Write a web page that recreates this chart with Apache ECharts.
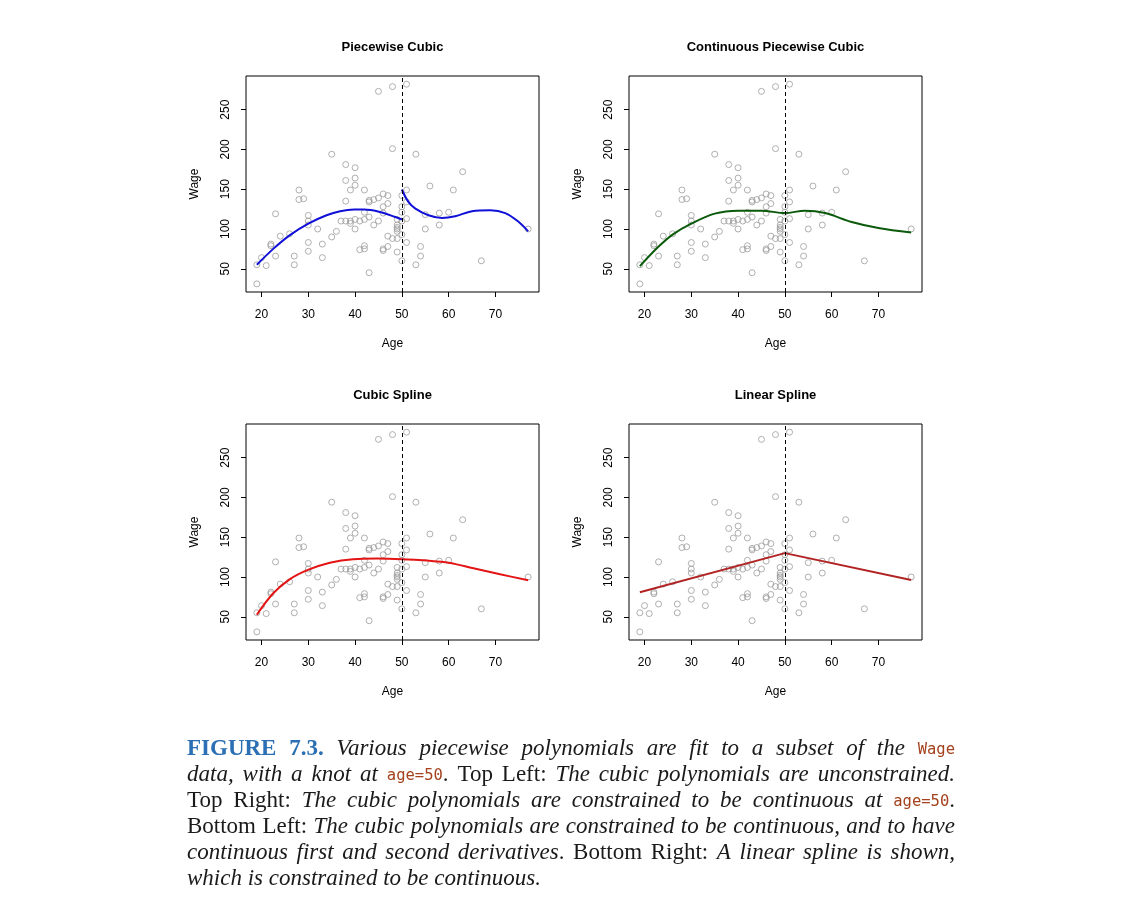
<!DOCTYPE html>
<html><head><meta charset="utf-8">
<script src="https://cdn.jsdelivr.net/npm/echarts@6/dist/echarts.min.js"></script>
<style>html,body{margin:0;padding:0;background:#fff}#c{width:1131px;height:906px}</style>
</head><body><div id="c"></div>
<script>
// ---------------- data ----------------
const AGE  = [19,19,20,21,22,22,23,23,24,26,27,27,28,28,29,30,30,30,30,30,32,33,33,35,35,36,37,38,38,38,38,39,39,39,40,40,40,40,40,41,41,42,42,42,42,42,43,43,43,43,44,44,45,45,45,46,46,46,46,46,47,47,47,47,48,48,48,49,49,49,49,49,49,49,50,50,50,50,50,50,51,51,51,51,51,53,53,54,54,55,55,56,58,58,60,61,63,67,77];
const WAGE = [31,55,64,54,81,79,119,66,91,94,66,55,149,137,138,117,110,105,83,72,100,81,64,194,90,97,110,181,161,135,110,149,110,107,177,164,155,112,100,110,74,149,121,112,79,75,136,134,115,45,137,105,273,139,110,144,128,120,75,73,142,132,91,78,279,201,88,112,105,102,100,97,88,71,142,128,121,110,93,60,282,149,134,113,83,194,55,78,66,118,100,154,120,105,121,149,172,60,100];

const KNOT = 50;

// Piecewise cubic (unconstrained), two pieces
const PW_LEFT_AGE  = [19, 22.5, 26, 30, 33.9, 36.8, 39.8, 41.9, 45.3, 48.6, 50];
const PW_LEFT_WAGE = [55, 75, 92, 106.7, 117.2, 122.3, 124.4, 124.4, 121.4, 115, 112];
const PW_RIGHT_AGE  = [50, 51.4, 52.9, 55.7, 58.6, 61.4, 65, 68.9, 72.1, 75, 77];
const PW_RIGHT_WAGE = [149.6, 134, 125.6, 117.2, 113.8, 116, 122.3, 123.5, 120, 108.8, 97];

// Continuous piecewise cubic
const CPW_AGE  = [19, 22.9, 26, 30, 35, 40, 45, 50, 54.3, 58.6, 64.3, 70, 77];
const CPW_WAGE = [53.3, 77.3, 93, 106.7, 119.3, 123, 123, 120, 123, 120, 108.8, 101.2, 95.5];

// Cubic spline
const CS_AGE  = [19, 22.5, 26, 29.9, 34.6, 39.6, 44.6, 50, 55.4, 60, 65.3, 71, 77];
const CS_WAGE = [52.5, 79.5, 97, 108.9, 118, 122.4, 123.1, 122.4, 120.6, 118, 111, 103.4, 96];

// Linear spline
const LS_AGE  = [19, 50, 77];
const LS_WAGE = [80.8, 130, 96.3];

const X_TICKS = [20, 30, 40, 50, 60, 70];
const Y_TICKS = [50, 100, 150, 200, 250];
const X_RANGE = [16.68, 79.32];
const Y_RANGE = [20.8, 292.3];

const PANEL_TITLES = ['Piecewise Cubic', 'Continuous Piecewise Cubic', 'Cubic Spline', 'Linear Spline'];
const X_NAME = 'Age';
const Y_NAME = 'Wage';

// ---------------- build ----------------
const zip = (a, b) => a.map((v, i) => [v, b[i]]);
const POINTS = zip(AGE, WAGE);

const SANS = '"Liberation Sans", Arial, Helvetica, sans-serif';
const GRIDS = [
  {left: 246, top: 76}, {left: 629, top: 76},
  {left: 246, top: 424}, {left: 629, top: 424}
];
const GW = 293, GH = 216;

const FITS = [
  [{x: PW_LEFT_AGE, y: PW_LEFT_WAGE, c: '#1010d8', s: true}, {x: PW_RIGHT_AGE, y: PW_RIGHT_WAGE, c: '#1010d8', s: true}],
  [{x: CPW_AGE, y: CPW_WAGE, c: '#0b5a0b', s: true}],
  [{x: CS_AGE, y: CS_WAGE, c: '#e41414', s: true}],
  [{x: LS_AGE, y: LS_WAGE, c: '#b22424', s: false}]
];

const grid = [], xAxis = [], yAxis = [], series = [], graphic = [];
GRIDS.forEach((g, i) => {
  grid.push({left: g.left, top: g.top, width: GW, height: GH, show: true, borderColor: '#000', borderWidth: 1, backgroundColor: 'transparent'});
  xAxis.push({
    gridIndex: i, type: 'value', min: X_RANGE[0], max: X_RANGE[1],
    axisLine: {show: false}, splitLine: {show: false},
    axisTick: {show: true, inside: false, length: 5, customValues: X_TICKS, lineStyle: {color: '#000', width: 1}},
    axisLabel: {customValues: X_TICKS, margin: 17, fontSize: 12, color: '#000', fontFamily: SANS},
    name: X_NAME, nameLocation: 'middle', nameGap: 46,
    nameTextStyle: {fontSize: 12, color: '#000', fontFamily: SANS}
  });
  yAxis.push({
    gridIndex: i, type: 'value', min: Y_RANGE[0], max: Y_RANGE[1],
    axisLine: {show: false}, splitLine: {show: false},
    axisTick: {show: true, inside: false, length: 5, customValues: Y_TICKS, lineStyle: {color: '#000', width: 1}},
    axisLabel: {customValues: Y_TICKS, margin: 14, rotate: 90, fontSize: 12, color: '#000', fontFamily: SANS},
    name: Y_NAME, nameLocation: 'middle', nameGap: 45,
    nameTextStyle: {fontSize: 12, color: '#000', fontFamily: SANS}
  });
  series.push({
    type: 'scatter', xAxisIndex: i, yAxisIndex: i, data: POINTS,
    symbol: 'circle', symbolSize: 6,
    itemStyle: {color: 'rgba(0,0,0,0)', borderColor: '#9c9c9c', borderWidth: 1},
    emphasis: {disabled: true}, silent: true, z: 2,
    markLine: {
      silent: true, symbol: ['none', 'none'], label: {show: false},
      lineStyle: {color: '#000', type: [4, 3], width: 1},
      emphasis: {disabled: true},
      data: [{xAxis: KNOT}]
    }
  });
  FITS[i].forEach(f => {
    series.push({
      type: 'line', xAxisIndex: i, yAxisIndex: i, data: zip(f.x, f.y),
      showSymbol: false, symbol: 'none', smooth: f.s ? 0.35 : false,
      lineStyle: {color: f.c, width: 2}, silent: true, z: 3
    });
  });
  graphic.push({
    type: 'text', x: g.left + GW / 2, y: g.top - 29,
    style: {text: PANEL_TITLES[i], font: 'bold 13px ' + SANS, fill: '#000',
      textAlign: 'center', align: 'center', textVerticalAlign: 'middle', verticalAlign: 'middle'}
  });
});

// ---------------- caption ----------------
const CAPTION_LINES = [
  [['fig', 'FIGURE 7.3. '], ['it', 'Various piecewise polynomials are fit to a subset of the '], ['code', 'Wage']],
  [['it', 'data, with a knot at '], ['code', 'age=50'], ['rm', '. Top Left: '], ['it', 'The cubic polynomials are unconstrained.']],
  [['rm', 'Top Right: '], ['it', 'The cubic polynomials are constrained to be continuous at '], ['code', 'age=50'], ['rm', '.']],
  [['rm', 'Bottom Left: '], ['it', 'The cubic polynomials are constrained to be continuous, and to have']],
  [['it', 'continuous first and second derivatives'], ['rm', '. Bottom Right: '], ['it', 'A linear spline is shown,']],
  [['it', 'which is constrained to be continuous.']]
];
const STY = {
  fig:  {font: 'bold 23px "Liberation Serif", serif', fill: '#2b6fb4'},
  it:   {font: 'italic 23px "Liberation Serif", serif', fill: '#1a1a1a'},
  rm:   {font: '23px "Liberation Serif", serif', fill: '#1a1a1a'},
  code: {font: '15.5px "DejaVu Sans Mono", monospace', fill: '#a3421c'}
};
const CAP_LEFT = 187, CAP_W = 768, CAP_Y0 = 749, CAP_DY = 26;
const mctx = document.createElement('canvas').getContext('2d');
const measure = (t, font) => { mctx.font = font; return mctx.measureText(t).width; };

CAPTION_LINES.forEach((runs, li) => {
  const words = []; let cur = [];
  runs.forEach(([st, txt]) => {
    txt.split(' ').forEach((p, k) => {
      if (k > 0) { if (cur.length) words.push(cur); cur = []; }
      if (p) cur.push({t: p, st});
    });
  });
  if (cur.length) words.push(cur);
  let total = 0;
  words.forEach(wd => { wd.w = 0; wd.forEach(f => { f.w = measure(f.t, STY[f.st].font); wd.w += f.w; }); total += wd.w; });
  const justify = li < CAPTION_LINES.length - 1;
  const gap = justify ? (CAP_W - total) / (words.length - 1) : measure(' ', STY.it.font);
  let x = CAP_LEFT;
  const y = CAP_Y0 + li * CAP_DY;
  words.forEach(wd => {
    wd.forEach(f => {
      graphic.push({type: 'text', x: x, y: y + (f.st === 'code' ? 1 : 0), silent: true,
        style: {text: f.t, font: STY[f.st].font, fill: STY[f.st].fill,
          textAlign: 'left', align: 'left', textVerticalAlign: 'middle', verticalAlign: 'middle'}});
      x += f.w;
    });
    x += gap;
  });
});

const chart = echarts.init(document.getElementById('c'), null, {renderer: 'canvas'});
chart.setOption({animation: false, backgroundColor: '#fff', grid, xAxis, yAxis, series, graphic});
</script>
</body></html>
